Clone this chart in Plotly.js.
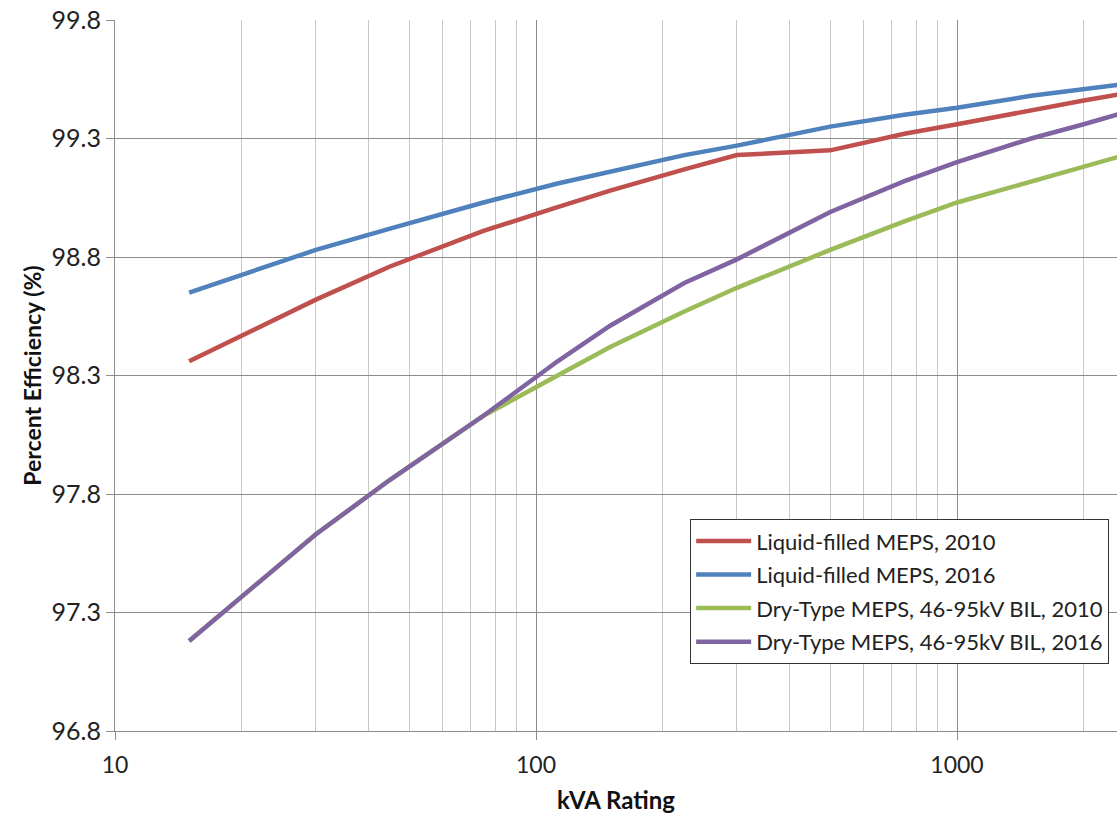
<!DOCTYPE html>
<html>
<head>
<meta charset="utf-8">
<script src="https://cdn.plot.ly/plotly-3.0.1.min.js"></script>
<style>html,body{margin:0;padding:0;background:#fff;}#chart{width:1117px;height:814px;}</style>
</head>
<body>
<div id="chart"></div>
<script>
const kva = [15, 30, 45, 75, 112.5, 150, 225, 300, 500, 750, 1000, 1500, 2000, 2500];
const liquid2010 = [98.36, 98.62, 98.76, 98.91, 99.01, 99.08, 99.17, 99.23, 99.25, 99.32, 99.36, 99.42, 99.46, 99.49];
const liquid2016 = [98.65, 98.83, 98.92, 99.03, 99.11, 99.16, 99.23, 99.27, 99.35, 99.40, 99.43, 99.48, 99.51, 99.53];
const dry2010 = [97.18, 97.63, 97.86, 98.13, 98.30, 98.42, 98.57, 98.67, 98.83, 98.95, 99.03, 99.12, 99.18, 99.23];
const dry2016 = [97.18, 97.63, 97.86, 98.13, 98.36, 98.51, 98.69, 98.79, 98.99, 99.12, 99.20, 99.30, 99.36, 99.41];
const seriesNames = ["Liquid-filled MEPS, 2010", "Liquid-filled MEPS, 2016", "Dry-Type MEPS, 46-95kV BIL, 2010", "Dry-Type MEPS, 46-95kV BIL, 2016"];
const seriesColors = ["#C0504D", "#4F81BD", "#9BBB59", "#8064A2"];
const yTicks = [96.8, 97.3, 97.8, 98.3, 98.8, 99.3, 99.8];
const xTicks = [10, 100, 1000];

const font = "Lato, 'Open Sans', sans-serif";
const data = [liquid2010, liquid2016, dry2010, dry2016].map((ys, i) => ({
  x: kva, y: ys, type: "scatter", mode: "lines", name: seriesNames[i],
  legendgroup: "g" + i,
  line: {color: seriesColors[i], width: 4.5}
}));

const layout = {
  width: 1117, height: 814,
  margin: {l: 115, r: 0, t: 20, b: 83},
  paper_bgcolor: "#fff", plot_bgcolor: "#fff",
  showlegend: true,
  legend: {
    x: 0.574, y: 0.298, xanchor: "left", yanchor: "top",
    bgcolor: "#fff", bordercolor: "#333", borderwidth: 1,
    font: {family: font, size: 22, color: "#222"},
    itemwidth: 55,
    tracegroupgap: 2
  },
  xaxis: {
    type: "log", range: [1, 3.38],
    tickvals: xTicks, ticktext: xTicks.map(String),
    showgrid: true, gridcolor: "#8c8c8c", gridwidth: 1,
    minor: {dtick: "D1", showgrid: true, gridcolor: "#c8c8c8", gridwidth: 1, ticks: ""},
    ticks: "outside", ticklen: 8, tickcolor: "#8c8c8c",
    ticklabelstandoff: 5,
    showline: true, linecolor: "#8c8c8c", linewidth: 1,
    zeroline: false,
    tickfont: {family: font, size: 23, color: "#222"},
    title: {text: "<b>kVA Rating</b>", font: {family: font, size: 24, color: "#111"}, standoff: 16}
  },
  yaxis: {
    range: [96.8, 99.8],
    tickvals: yTicks, ticktext: yTicks.map(v => v.toFixed(1)),
    showgrid: true, gridcolor: "#8c8c8c", gridwidth: 1,
    ticks: "outside", ticklen: 8, tickcolor: "#8c8c8c",
    showline: true, linecolor: "#8c8c8c", linewidth: 1,
    zeroline: false,
    tickfont: {family: font, size: 25, color: "#222"},
    title: {text: "<b>Percent Efficiency (%)</b>", font: {family: font, size: 23, color: "#111"}, standoff: 3}
  }
};
Plotly.newPlot("chart", data, layout, {staticPlot: true, displayModeBar: false});
</script>
</body>
</html>
